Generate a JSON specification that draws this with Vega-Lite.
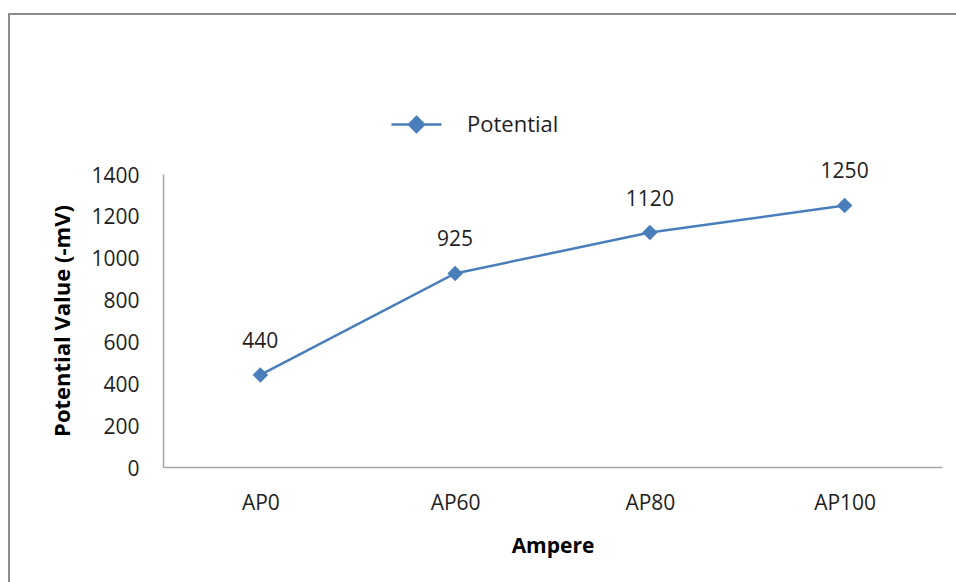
{
  "$schema": "https://vega.github.io/schema/vega-lite/v6.json",
  "width": 960,
  "height": 580,
  "autosize": {"type": "none"},
  "padding": {"left": 9, "top": 14, "right": 0, "bottom": 0},
  "background": "white",
  "config": {
    "font": "Open Sans",
    "view": {"stroke": "#8c8c8c", "strokeWidth": 2}
  },
  "data": {
    "values": [
      {"sample": "AP0", "potential": 440, "series": "Potential"},
      {"sample": "AP60", "potential": 925, "series": "Potential"},
      {"sample": "AP80", "potential": 1120, "series": "Potential"},
      {"sample": "AP100", "potential": 1250, "series": "Potential"}
    ]
  },
  "encoding": {
    "x": {
      "field": "sample",
      "type": "ordinal",
      "sort": null,
      "scale": {"type": "point", "range": [154, 933], "padding": 0.5},
      "axis": {
        "offset": -127,
        "ticks": false,
        "grid": false,
        "labelAngle": 0,
        "domainColor": "#a6a6a6",
        "domainWidth": 1.5,
        "labelPadding": 25,
        "labelFontSize": 21,
        "labelColor": "#1e1e1e",
        "title": "Ampere",
        "titleFontSize": 21,
        "titleFontWeight": "bold",
        "titleColor": "#000000",
        "titlePadding": 22
      }
    },
    "y": {
      "field": "potential",
      "type": "quantitative",
      "scale": {"domain": [0, 1400], "range": [453, 160]},
      "axis": {
        "offset": -154,
        "values": [0, 200, 400, 600, 800, 1000, 1200, 1400],
        "format": "d",
        "ticks": false,
        "grid": false,
        "domainColor": "#a6a6a6",
        "domainWidth": 1.5,
        "labelPadding": 24,
        "labelFontSize": 21,
        "labelColor": "#1e1e1e",
        "labelOffset": 2,
        "title": "Potential Value (-mV)",
        "titleFontSize": 22,
        "titleFontWeight": "bold",
        "titleColor": "#000000",
        "titlePadding": 16
      }
    }
  },
  "layer": [
    {
      "mark": {"type": "line", "strokeWidth": 2.5},
      "encoding": {
        "color": {
          "field": "series",
          "type": "nominal",
          "scale": {"range": ["#4a7ebb"]},
          "legend": {
            "orient": "none",
            "legendX": 381,
            "legendY": 84,
            "title": null,
            "padding": 0,
            "symbolType": "M-1,0H1M0,-0.3L0.3,0L0,0.3L-0.3,0Z",
            "symbolSize": 2500,
            "symbolStrokeWidth": 2.5,
            "symbolFillColor": "#4a7ebb",
            "symbolStrokeColor": "#4a7ebb",
            "labelFontSize": 22,
            "labelColor": "#1e1e1e",
            "labelOffset": 24
          }
        }
      }
    },
    {
      "mark": {"type": "point", "shape": "diamond", "filled": true, "size": 240, "color": "#4a7ebb", "opacity": 1}
    },
    {
      "mark": {"type": "text", "dy": -33, "fontSize": 21, "color": "#1e1e1e"},
      "encoding": {"text": {"field": "potential", "type": "quantitative"}}
    }
  ]
}
